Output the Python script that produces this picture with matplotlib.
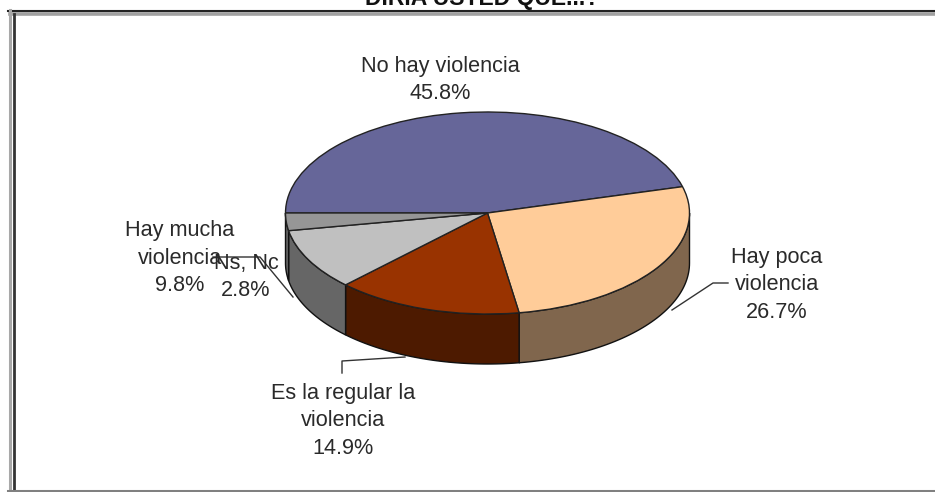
import numpy as np
import matplotlib
matplotlib.use("Agg")
import matplotlib.pyplot as plt

plt.rcParams['font.family'] = ['Liberation Sans', 'DejaVu Sans']

labels = ["No hay violencia", "Hay poca\nviolencia", "Es la regular la\nviolencia", "Hay mucha\nviolencia", "Ns, Nc"]
values = [45.8, 26.7, 14.9, 9.8, 2.8]
top_colors = ["#666699", "#FFCC99", "#993300", "#C0C0C0", "#969696"]
side_colors = ["#3D3D5C", "#80664D", "#4D1A00", "#666666", "#666666"]
title = "DIRIA USTED QUE...?"

W, H = 935, 492
cx, cy, rx, ry, depth = 487.5, 213, 202, 101, 50


def to_x(px):
    return (px - cx) / rx


def to_y(py):
    return (cy - py) / ry


fig = plt.figure(figsize=(W / 100, H / 100), dpi=100)
ax = fig.add_axes([0, 0, 1, 1])

# side wall first, only the front half of the disc shows
drop = depth / ry
edges = 180 - np.cumsum([0] + values) * 3.6
for i, val in enumerate(values):
    a0, a1 = edges[i + 1], edges[i]
    a0, a1 = max(a0, -180), min(a1, 0)
    if a1 <= a0:
        continue
    t = np.radians(np.linspace(a0, a1, 60))
    xs = np.r_[np.cos(t), np.cos(t[::-1])]
    ys = np.r_[np.sin(t), np.sin(t[::-1]) - drop]
    ax.fill(xs, ys, facecolor=side_colors[i], edgecolor="#111111", lw=1.0, zorder=1)

ax.pie(values, colors=top_colors, startangle=180, counterclock=False,
       wedgeprops=dict(edgecolor="#222222", linewidth=1.0, zorder=2))

ax.set_aspect("auto")
ax.set_xlim(to_x(0), to_x(W))
ax.set_ylim(to_y(H), to_y(0))
ax.set_axis_off()

fs = 15.6
text_color = "#2a2a2a"
spots = [(440, 80), (777, 285), (343, 421), (180, 258), (246, 277)]
for name, val, (px, py) in zip(labels, values, spots):
    ax.text(to_x(px), to_y(py), name + "\n" + ("%.1f%%" % val), ha="center", va="center",
            fontsize=fs, color=text_color, linespacing=1.4, zorder=6)

# leader lines
leaders = [
    ([728, 713, 672], [283, 283, 310]),
    ([342, 342, 405], [373, 361, 357]),
    ([213, 260, 293], [257, 257, 297]),
]
for lx, ly in leaders:
    ax.plot([to_x(v) for v in lx], [to_y(v) for v in ly], color="#333333", lw=1.0, zorder=5)


# chart frame, drawn in pixels from the top left
def frame_line(xs, ys, color, lw):
    fig.add_artist(plt.Line2D([v / W for v in xs], [1 - v / H for v in ys], color=color, lw=lw))


frame_line([9.5, W], [14, 14], "#a0a0a0", 2.6)
frame_line([8, W], [10.5, 10.5], "#222222", 1.5)
frame_line([9.5, 9.5], [10, H], "#a8a8a8", 2.2)
frame_line([13.5, 13.5], [14, H], "#333333", 2.0)
frame_line([8, W], [490.5, 490.5], "#808080", 2.2)

# title sits mostly above the picture, as in the reference
fig.text(482 / W, 1 - 5 / H, title, ha="center", va="baseline", fontsize=16.5, color="#111111", fontweight="bold")

fig.savefig("out.png", dpi=100)
